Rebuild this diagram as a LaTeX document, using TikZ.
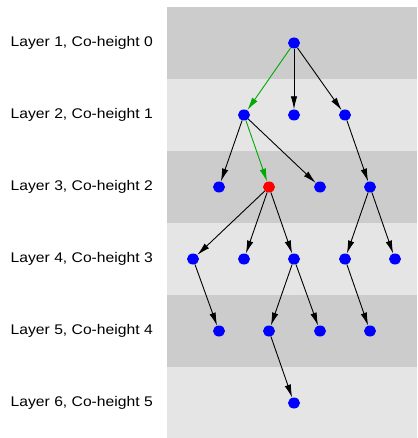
\documentclass[tikz,border=0pt]{standalone}
\usepackage{fontspec}
\setmainfont[FakeStretch=1.12]{Liberation Sans}
\usetikzlibrary{shapes.geometric,arrows.meta}
\definecolor{banddark}{HTML}{CCCCCC}
\definecolor{bandlight}{HTML}{E5E5E5}
\definecolor{pathgreen}{RGB}{0,170,0}
\begin{document}
\begin{tikzpicture}[x=1pt,y=-1pt,
  vtx/.style={ellipse,fill=blue,draw=none,minimum width=12pt,minimum height=11pt,inner sep=0pt},
  hot/.style={vtx,fill=red},
  edge/.style={draw=black,line width=0.9pt,-{Latex[length=13pt,width=6.5pt]}},
  gedge/.style={edge,draw=pathgreen,-{Latex[length=13pt,width=6.5pt,fill=pathgreen]}},
  lbl/.style={anchor=west,inner sep=0pt,font=\fontsize{14}{16}\selectfont}]
\useasboundingbox (0,0) rectangle (417,438);
\fill[white] (0,0) rectangle (417,438);
\fill[banddark] (167,7) rectangle (417,79);
\fill[bandlight] (167,79) rectangle (417,151);
\fill[banddark] (167,151) rectangle (417,223);
\fill[bandlight] (167,223) rectangle (417,295);
\fill[banddark] (167,295) rectangle (417,367);
\fill[bandlight] (167,367) rectangle (417,438);
\node[lbl] (l1) at (10.5,43) {Layer 1, Co-height 0};
\node[lbl] (l2) at (10.5,115) {Layer 2, Co-height 1};
\node[lbl] (l3) at (10.5,187) {Layer 3, Co-height 2};
\node[lbl] (l4) at (10.5,259) {Layer 4, Co-height 3};
\node[lbl] (l5) at (10.5,331) {Layer 5, Co-height 4};
\node[lbl] (l6) at (10.5,403) {Layer 6, Co-height 5};
\node[vtx] (r) at (294,43) {};
\node[vtx] (a1) at (244,115) {};
\node[vtx] (a2) at (294,115) {};
\node[vtx] (a3) at (345,115) {};
\node[vtx] (b1) at (219,187) {};
\node[hot] (b2) at (269,187) {};
\node[vtx] (b3) at (320,187) {};
\node[vtx] (b4) at (370,187) {};
\node[vtx] (c1) at (193,259) {};
\node[vtx] (c2) at (244,259) {};
\node[vtx] (c3) at (294,259) {};
\node[vtx] (c4) at (345,259) {};
\node[vtx] (c5) at (395,259) {};
\node[vtx] (d1) at (219,331) {};
\node[vtx] (d2) at (269,331) {};
\node[vtx] (d3) at (320,331) {};
\node[vtx] (d4) at (370,331) {};
\node[vtx] (e1) at (294,403) {};
\draw[gedge] (r) -- (a1);
\draw[edge] (r) -- (a2);
\draw[edge] (r) -- (a3);
\draw[edge] (a1) -- (b1);
\draw[gedge] (a1) -- (b2);
\draw[edge] (a1) -- (b3);
\draw[edge] (a3) -- (b4);
\draw[edge] (b2) -- (c1);
\draw[edge] (b2) -- (c2);
\draw[edge] (b2) -- (c3);
\draw[edge] (b4) -- (c4);
\draw[edge] (b4) -- (c5);
\draw[edge] (c1) -- (d1);
\draw[edge] (c3) -- (d2);
\draw[edge] (c3) -- (d3);
\draw[edge] (c4) -- (d4);
\draw[edge] (d2) -- (e1);
\end{tikzpicture}
\end{document}
